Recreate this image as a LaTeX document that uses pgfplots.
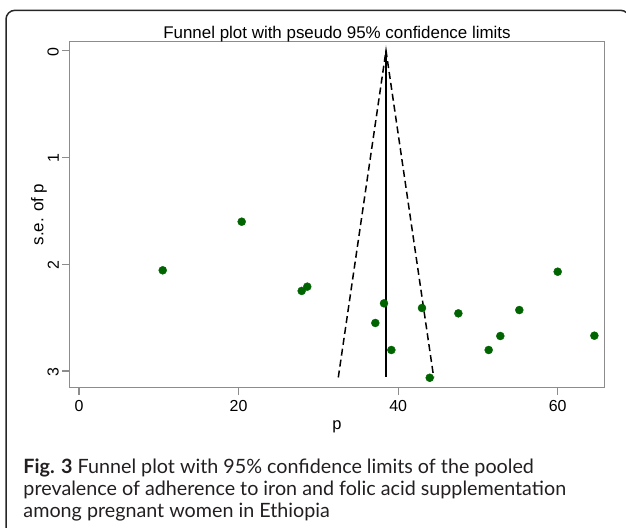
\documentclass[border=0pt]{standalone}
\usepackage{fontspec}
\setmainfont{Liberation Sans}
\newfontfamily\capfont{Lato}
\usepackage{pgfplots}
\pgfplotsset{compat=1.18}
\definecolor{dkgreen}{RGB}{0,100,0}
\definecolor{axgray}{RGB}{140,140,140}
\definecolor{captext}{RGB}{35,31,32}
\begin{document}
\begin{tikzpicture}[x=1bp,y=1bp]
\useasboundingbox (0,0) rectangle (626,528);
\begin{scope}
\clip (0,0) rectangle (626,528);
\draw[line width=1.5bp, black!85, rounded corners=9bp] (6,517.7) rectangle (629.5,-20);
\end{scope}
\begin{axis}[
  at={(69.3bp,140.3bp)}, anchor=south west,
  scale only axis, width=535.2bp, height=346.4bp,
  xmin=-1.22, xmax=65.87, ymin=-0.087, ymax=3.156,
  y dir=reverse,
  xtick={0,20,40,60}, ytick={0,1,2,3},
  xtick pos=lower, ytick pos=left,
  tick align=outside, major tick length=7bp,
  axis line style={axgray, line width=1.1bp},
  tick style={axgray, line width=1.1bp},
  /pgf/number format/assume math mode=true,
  ticklabel style={font=\fontsize{16}{19}\selectfont, text=black},
  xticklabel style={yshift=-2bp},
  yticklabel style={rotate=90, anchor=south, xshift=-1bp},
  clip=false,
]
\addplot[black, line width=1.6bp] coordinates {(38.48,0) (38.48,3.06)};
\addplot[black, dash pattern=on 7bp off 4bp, line width=1.5bp] coordinates {(32.5,3.06) (38.48,0) (44.46,3.06)};
\addplot[only marks, mark=*, mark size=4bp, color=dkgreen, fill=dkgreen] coordinates {
(10.49,2.057) (20.39,1.602) (27.91,2.25) (28.61,2.21) (38.23,2.366)
(37.14,2.55) (39.15,2.803) (42.99,2.41) (43.96,3.063) (47.55,2.46)
(51.35,2.803) (52.81,2.672) (55.19,2.429) (60.0,2.07) (64.6,2.669)};
\end{axis}
\node[font=\fontsize{17}{20}\selectfont, anchor=base] at (337,489.5) {Funnel plot with pseudo 95\% confidence limits};
\node[font=\fontsize{16.5}{19}\selectfont] at (337,101.5) {p};
\node[font=\fontsize{17}{20}\selectfont, rotate=90] at (39,313.5) {s.e. of p};
\node[font=\capfont\fontsize{19.8}{22}\selectfont, text=captext, anchor=base west, inner sep=0pt] at (23.3,54) {\textbf{Fig. 3} Funnel plot with 95\% confidence limits of the pooled};
\node[font=\capfont\fontsize{19.8}{22}\selectfont, text=captext, anchor=base west, inner sep=0pt] at (23.3,32.3) {prevalence of adherence to iron and folic acid supplementation};
\node[font=\capfont\fontsize{19.8}{22}\selectfont, text=captext, anchor=base west, inner sep=0pt] at (23.3,10.6) {among pregnant women in Ethiopia};
\end{tikzpicture}
\end{document}
